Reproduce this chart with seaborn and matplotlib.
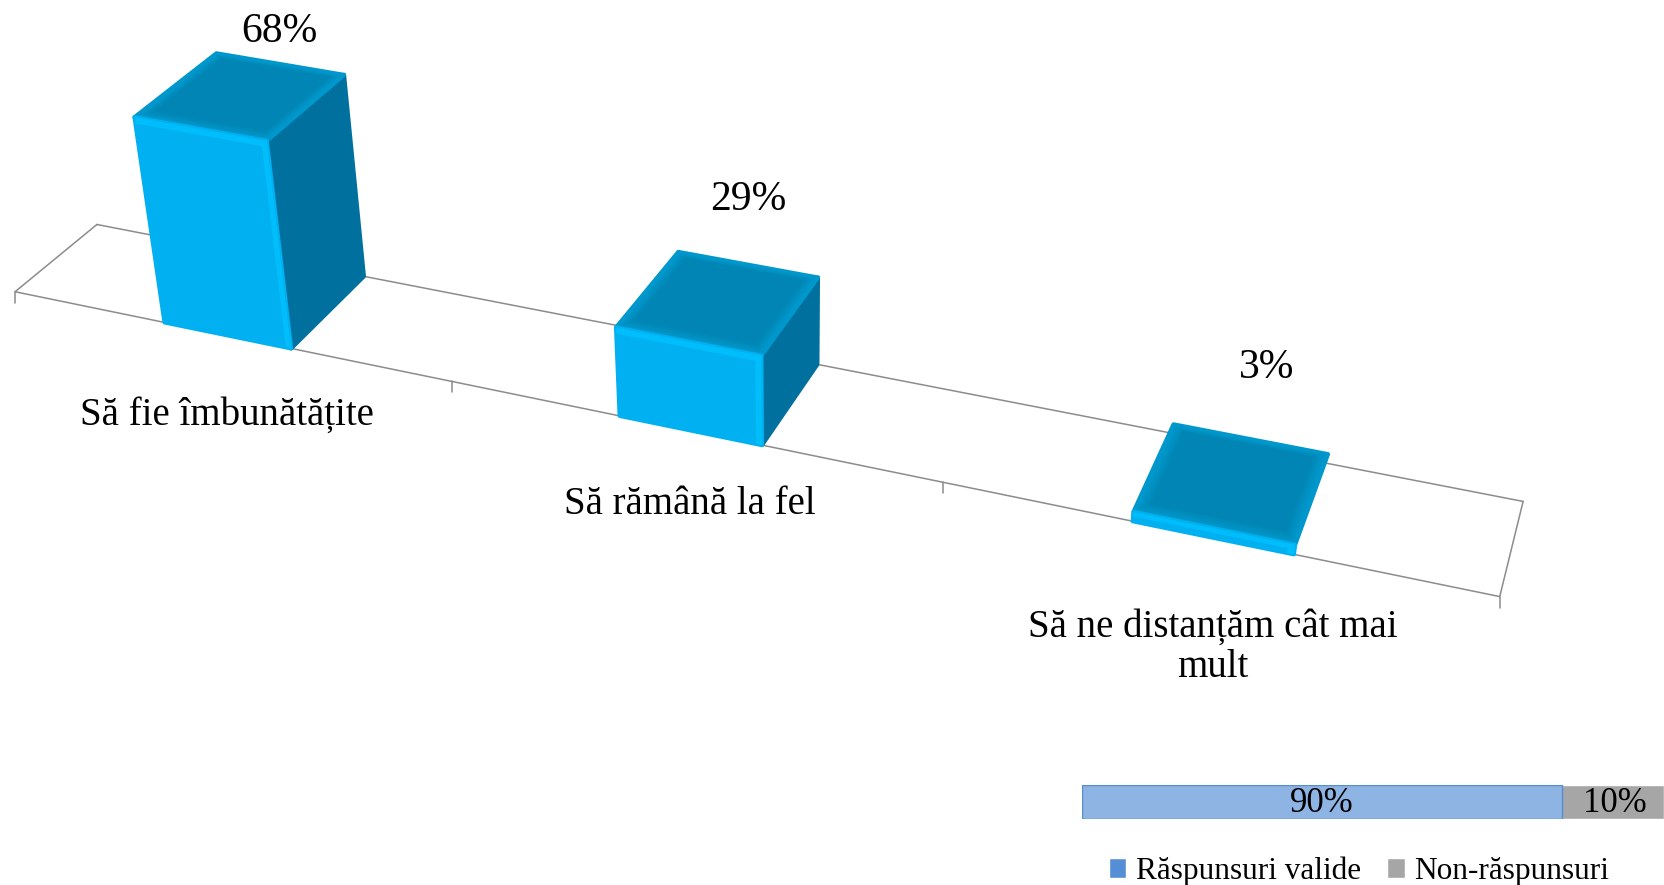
import numpy as np
import matplotlib
matplotlib.use('Agg')
import matplotlib.pyplot as plt
import seaborn as sns
from matplotlib.colors import to_rgb
from matplotlib.patches import Patch, Polygon
from matplotlib.transforms import Affine2D, Transform

# --- data ---
categories = ['Să fie îmbunătățite', 'Să rămână la fel', 'Să ne distanțăm cât mai\nmult']
values = [68, 29, 3]
value_labels = ['68%', '29%', '3%']
response_names = ['Răspunsuri valide', 'Non-răspunsuri']
response_labels = ['90%', '10%']
response_widths = [82.5, 17.5]  # as drawn in the picture, not the same as the labels

# --- layout, in reference pixels ---
W, H = 1664, 885
floor_uv = [(-0.5, 0), (-0.5, 1), (2.5, 1), (2.5, 0), (0.5, 0), (1.5, 0)]
floor_px = [(15, 292), (97, 224), (1523, 502), (1500, 596), (452, 382), (943, 482)]
vanish = np.array([790.0, 4600.0, 1.0])
height_k = 0.00066
tick_len = 11
label_px = [(279, 32), (748, 200), (1267, 368)]
cat_px = [(227, 415), (690, 505), (1213, 647)]

FRONT, TOP, SIDE = '#00B0F0', '#0085B4', '#00719E'
FRONT_HI, TOP_HI = '#00BDFB', '#0098CC'
TEXT_FONT = ['Liberation Serif', 'DejaVu Serif']

# homography of the chart floor, from its corners and ticks
A, b = [], []
for (u, d), (px, py) in zip(floor_uv, floor_px):
    A.append([u, d, 1, 0, 0, 0, -u * px, -d * px])
    A.append([0, 0, 0, u, d, 1, -u * py, -d * py])
    b += [px, py]
h = np.linalg.lstsq(np.array(A, float), np.array(b, float), rcond=None)[0]
M = np.array([[h[0], h[1], h[2]], [h[3], h[4], h[5]], [h[6], h[7], 1.0]])
w0 = M[2] @ np.array([-0.5, 0, 1])


def project(u, d, v):
    u, d, v = (np.asarray(a, float) for a in (u, d, v))
    p = M @ np.array([u, d, np.ones_like(u)])
    p = p - v * height_k * w0 * vanish[:, None]
    return (p[:2] / p[2]).T


class FaceProjection(Transform):
    # (category position, value) at a fixed depth -> picture pixels
    input_dims = 2
    output_dims = 2

    def __init__(self, floor_depth):
        super().__init__()
        self.floor_depth = floor_depth

    def transform_non_affine(self, values):
        xy = np.asarray(values, float)
        return project(xy[:, 0], np.full(len(xy), self.floor_depth, float), xy[:, 1])


to_display = Affine2D().scale(1, -1).translate(0, H)

sns.set_theme(style='white')
plt.rcParams['font.family'] = TEXT_FONT
plt.rcParams['text.color'] = 'black'
fig = plt.figure(figsize=(W / 100, H / 100), dpi=100, facecolor='white')
ax = fig.add_axes([0, 0, 1, 1])

sns.barplot(x=categories, y=values, color=FRONT, width=0.29, saturation=1, ax=ax)
ax.axis('off')


def face(points, color, z, lw=0.0):
    ax.add_patch(Polygon(points, closed=True, facecolor=color, edgecolor=color, linewidth=lw,
                         joinstyle='round', transform=to_display, clip_on=False, zorder=z))


def floor_line(points):
    ax.plot(*zip(*points), color='#8C8C8C', lw=1.1, transform=to_display, clip_on=False, zorder=1)


# floor outline and ticks
floor_line(project([-0.5, 2.5], [0, 0], [0, 0]))
floor_line(project([-0.5, 2.5], [1, 1], [0, 0]))
floor_line(project([-0.5, -0.5], [0, 1], [0, 0]))
floor_line(project([2.5, 2.5], [0, 1], [0, 0]))
for tick in [-0.5, 0.5, 1.5, 2.5]:
    start = project([tick], [0], [0])[0]
    floor_line([start, start + [0, tick_len]])

for bar in list(ax.patches):
    x0, bw, val = bar.get_x(), bar.get_width(), bar.get_height()
    x1 = x0 + bw

    # right side, swallowed by the bevel on very low bars
    if val > 5:
        face(project([x1, x1, x1, x1], [0, 1, 1, 0], [0, 0, val, val]), SIDE, 2, lw=3)

    # top, a few inset steps for the soft bevel
    for step, f in enumerate(np.linspace(0, 1, 5)):
        c = np.array(to_rgb(TOP_HI)) + (np.array(to_rgb(TOP)) - np.array(to_rgb(TOP_HI))) * f
        iu, id_ = f * 0.022, f * 0.11
        face(project([x0 + iu, x0 + iu, x1 - iu, x1 - iu], [id_, 1 - id_ / 2, 1 - id_ / 2, id_],
                     [val] * 4), c, 3 + step * 0.01, lw=3 if step == 0 else 0)

    # front face comes from seaborn, moved into the projection
    bar.set_transform(FaceProjection(0.0) + to_display)
    bar.set_clip_on(False)
    bar.set_edgecolor(FRONT)
    bar.set_linewidth(3)
    bar.set_joinstyle('round')
    bar.set_zorder(4)

    # bright strips on the front edges
    band = min(2.0, val * 0.5)
    face(project([x0, x1, x1, x0], [0] * 4, [val, val, val - band, val - band]), FRONT_HI, 5)
    face(project([x1 - 0.012, x1, x1, x1 - 0.012], [0] * 4, [0, 0, val, val]), FRONT_HI, 5)

for txt, (px, py) in zip(value_labels, label_px):
    ax.text(px, py, txt, fontsize=30, ha='center', va='center', color='black',
            transform=to_display, clip_on=False, zorder=6)
for txt, (px, py) in zip(categories, cat_px):
    ax.text(px, py, txt, fontsize=28, ha='center', va='center', color='black', linespacing=1.12,
            transform=to_display, clip_on=False, zorder=6)

# small response rate bar at the bottom
rate_ax = fig.add_axes([1082 / W, 1 - 819 / H, (W - 1082) / W, 34 / H])
sns.barplot(x=[sum(response_widths)], y=[''], color='#A6A6A6', saturation=1, width=1, ax=rate_ax)
sns.barplot(x=[response_widths[0]], y=[''], color='#8EB4E3', saturation=1, width=1,
            edgecolor='#558ED5', linewidth=1, ax=rate_ax)
rate_ax.set_xlim(0, sum(response_widths))
rate_ax.set_ylim(0.5, -0.5)
rate_ax.axis('off')
rate_ax.text(response_widths[0] * 0.5, 0.03, response_labels[0], fontsize=25, ha='center',
             va='center', color='black')
rate_ax.text(response_widths[0] + response_widths[1] * 0.52, 0.03, response_labels[1], fontsize=25,
             ha='center', va='center', color='black')

handles = [Patch(facecolor='#558ED5', label=response_names[0]),
           Patch(facecolor='#A6A6A6', label=response_names[1])]
fig.legend(handles=handles, ncol=2, frameon=False, fontsize=22.5, loc='center',
           bbox_to_anchor=(1359 / W, 1 - 871 / H), handlelength=0.55, handleheight=0.6,
           handletextpad=0.3, columnspacing=0.85, borderpad=0, labelcolor='black')

fig.savefig('out.png', dpi=100)
plt.close(fig)
